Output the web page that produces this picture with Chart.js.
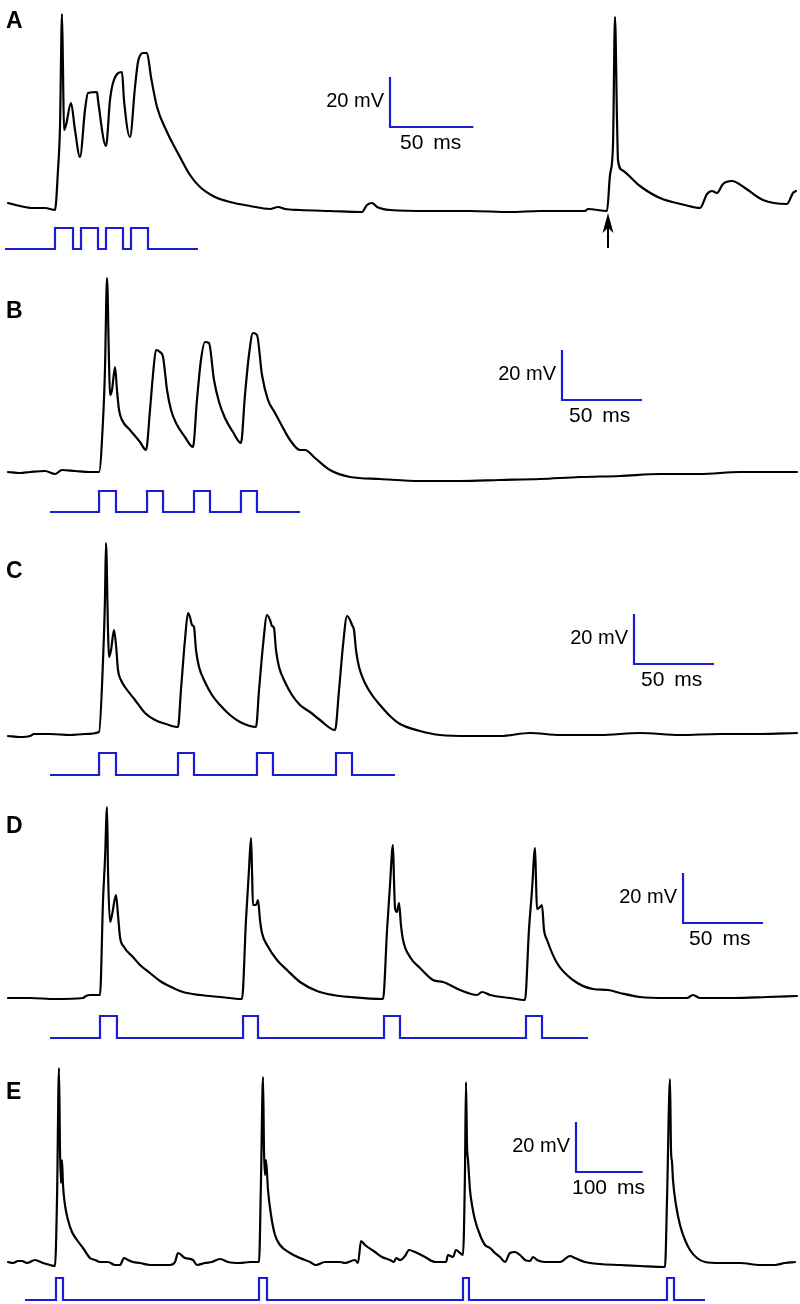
<!DOCTYPE html>
<html>
<head>
<meta charset="utf-8">
<script src="https://cdn.jsdelivr.net/npm/chart.js@4.4.1/dist/chart.umd.min.js"></script>
<style>
html,body{margin:0;padding:0;background:#fff;}
#wrap{position:relative;width:800px;height:1304px;overflow:hidden;}
canvas{position:absolute;left:0;}
</style>
</head>
<body>
<div id="wrap">
<canvas id="cA"></canvas>
<canvas id="cB"></canvas>
<canvas id="cC"></canvas>
<canvas id="cD"></canvas>
<canvas id="cE"></canvas>
</div>
<script>
// ===== DATA (time in ms, membrane potential in mV) =====
const panelLetters = ['A','B','C','D','E'];

// Panel A
const timeA = [4.8,12,19.8,27,33,34.8,36,37.2,37.8,38.4,39.6,42.6,45,48,51,52.8,58.2,58.8,63.6,66,67.8,73.2,74.4,78,81,82.8,85.8,88.2,90.6,94.2,100.2,108,114,120,129,138,150,162,166.8,171,180,198,217.2,220.2,223.2,226.2,234,258,282,306,324,351,352.8,364.2,366,367.8,369,370.2,370.8,373.2,384,396,411,420,424.2,427.2,430.2,433.8,439.2,447,457.8,472.2,475.8,477.6];
const vmA   = [-67.2,-68.4,-69.2,-69.2,-70,-54,-36.8,8.4,-14,-38,-36,-27.2,-38,-48.8,-30,-23.2,-22.8,-26,-44.4,-26,-19.2,-14.8,-26,-40.8,-20.8,-10.8,-7.2,-7.2,-16.8,-28.8,-38.8,-48.8,-56,-60.8,-64.8,-66.8,-68.4,-69.6,-68.8,-69.6,-70,-70.4,-70.8,-68,-67.2,-68.8,-70,-70.4,-70.4,-70.8,-70.4,-70.4,-69.6,-70.4,-56,-44,7.2,-34,-50,-54,-60.4,-65.2,-68,-69.2,-63.6,-62.4,-63.2,-59.6,-58.4,-61.2,-66,-67.6,-63.2,-62.4];
const stimOnA  = [33,48.6,63.6,78.6];
const stimOffA = [43.8,58.8,73.8,88.8];
const stimSpanA = [3,118.8];
const scaleBarA = [234,-36.8];         // corner of the scale bar (ms, mV)
const arrowA = [364.8,-71.2,-85.2];    // time, tip mV, tail mV

// Panel B
const timeB = [5,12.5,18.75,28.1,34.4,38.75,46.9,56.25,61.9,64.4,65.6,66.9,68.1,68.75,70,71.9,73.1,74.4,76.25,81.25,87.5,91.25,93.75,95.6,97.5,100,101.9,104.4,106.9,110,115.6,120.6,123.1,125.6,128.1,130.6,133.75,136.9,140.6,145.6,150.6,153.1,155.6,158.1,160.6,163.75,167.5,171.9,176.9,181.25,187.5,190.6,196.9,206.25,218.75,237.5,262.5,287.5,312.5,337.5,362.5,387.5,412.5,437.5,462.5,481.25,498.1];
const vmB   = [-70,-70.4,-70,-69.6,-70.8,-69.2,-69.6,-70,-70,-49.2,-29.2,7.6,-25.2,-39.2,-37.2,-28,-37.2,-45.2,-49.2,-53.2,-58,-61.2,-45.2,-31.2,-21.2,-22,-24,-37.2,-45.2,-50.4,-56,-60,-41.2,-25.2,-18,-18.4,-33.2,-42,-48.4,-54,-58.4,-39.2,-23.2,-14.4,-15.2,-31.2,-41.2,-46.4,-52.4,-57.2,-61.2,-61.2,-64.4,-69.2,-72,-72.8,-73.6,-73.6,-73.2,-72.8,-72,-71.6,-70.8,-70.8,-70,-70,-70];
const stimOnB  = [61.9,91.9,121.25,150.6];
const stimOffB = [72.5,101.9,131.25,160.6];
const stimSpanB = [31.25,187.5];
const scaleBarB = [351.25,-41.2];

// Panel C
const timeC = [5,12.5,18.75,21.25,31.25,43.75,53.1,61.9,64.4,65.6,66.25,67.5,68.1,69.4,71.25,72.5,73.75,75.6,78.1,84.4,90.6,96.9,103.75,111.25,113.1,115.6,117.5,118.75,120,121.25,122.5,124.4,128.1,132.5,137.5,143.75,150,160,161.9,164.4,166.9,168.75,170,171.25,172.5,174.4,178.1,182.5,187.5,193.75,200,209.4,211.9,214.4,216.9,218.75,220,221.25,222.5,224.4,228.1,232.5,237.5,243.75,250,262.5,275,293.75,312.5,331.25,350,375,400,425,450,475,498.1];
const vmC   = [-70.4,-70.8,-70.4,-69.6,-69.6,-70,-69.6,-68.8,-40,-16,6.8,-28,-38.8,-36,-28,-34,-44,-48,-50.8,-56,-61.2,-64,-65.6,-66.8,-52,-32,-21.2,-22.8,-26,-26.8,-36,-42.8,-48.8,-54,-58,-62,-64.8,-66.8,-52,-34,-22,-24,-26.4,-27.2,-36,-42.8,-48.8,-54,-58,-60.8,-64,-68,-52,-34,-22.4,-24,-26,-28,-36,-42.8,-49.2,-54,-58,-62.4,-65.6,-68.4,-70,-70.4,-70.4,-69.2,-70,-70,-69.2,-70,-69.6,-69.6,-69.2];
const stimOnC  = [61.9,111.25,160.6,210];
const stimOffC = [72.5,121.25,170.6,220];
const stimSpanC = [31.25,246.9];
const scaleBarC = [396.25,-41.6];

// Panel D
const timeD = [5,18.75,34.4,51.9,53.75,56.25,62.5,64.4,65.6,66.9,67.5,68.75,70,72.5,73.75,75,77.5,83.1,87.5,93.75,100,104.4,114.4,125,137.5,151.25,153.75,155.6,156.9,157.5,158.1,160,161.25,162.5,163.75,166.9,173.1,179.4,187.5,198.1,208.1,218.75,239.4,241.9,243.75,245.6,246.25,246.9,248.1,249.4,250.6,251.9,256.25,262.5,270.6,276.9,287.5,298.1,301.25,306.25,318.75,328.1,330.6,332.5,334.4,335,335.6,337.5,338.75,340,341.9,348.1,358.1,370.6,380,387.5,400,416.9,429.4,433.1,437.5,458.1,479.4,498.1];
const vmD   = [-70,-70,-70.4,-70,-69.2,-68.8,-68.8,-30.8,-14.8,6.4,-18.8,-39.6,-36.8,-28.8,-36.8,-45.6,-49.6,-53.6,-56.8,-60,-63.2,-64.8,-67.6,-68.8,-69.6,-70.4,-38.8,-18.8,-6,-18.8,-32.8,-32.8,-30.8,-38.8,-44,-48.8,-54.8,-58.8,-63.6,-67.2,-68.8,-69.6,-70.4,-42.8,-24.8,-8.8,-22.8,-34,-35.6,-32,-40.8,-46.8,-53.6,-58,-62.8,-63.6,-66.8,-68.8,-67.6,-68.8,-70,-70.8,-42.8,-26.8,-10,-22.8,-34.4,-33.6,-32.8,-42.8,-46.8,-56,-62.8,-66.4,-66.8,-68,-69.6,-70,-70,-68.8,-70,-70,-69.6,-69.2];
const stimOnD  = [62.5,151.9,240,328.75];
const stimOffD = [73.1,161.25,250,338.75];
const stimSpanD = [31.25,367.5];
const scaleBarD = [426.9,-40];

// Panel E
const timeE = [12,19.5,27,33,40.5,52.5,64.5,75,82.5,85.5,88.5,90,91.5,93,94.5,97.5,102,108,115.5,124.5,135,142.5,150,162,172.5,180,186,192,199.5,210,225,240,255,262.5,267,277.5,289.5,295.5,307.5,318,330,342,360,375,388.5,391.5,394.5,396,397.5,399,402,406.5,412.5,420,435,450,465,474,487.5,510,517.5,532.5,537,541.5,547.5,562.5,573,585,591,594,600,607.5,613.5,622.5,637.5,652.5,669,672,679.5,684,690,694.5,697.5,699,700.5,702,703.5,705,708,712.5,720,727.5,735,742.5,750,757.5,765,772.5,780,787.5,795,799.5,805.5,817.5,840,855,862.5,877.5,900,930,960,997.5,1000.5,1005,1006.5,1008,1009.5,1014,1020,1027.5,1035,1045.5,1057.5,1080,1110,1140,1162.5,1177.5,1192.5];
const vmE   = [-69.6,-70,-69.2,-69.2,-70,-68.8,-70,-70.8,-71.2,-44.8,8,-24.8,-38,-28.8,-38.8,-46.8,-52.8,-57.6,-60.8,-64,-68,-68.8,-69.6,-69.6,-70.8,-70.8,-68,-68.8,-69.6,-70,-70.8,-70.8,-70.8,-69.6,-66,-68,-68.8,-70.8,-70,-69.6,-68.4,-69.6,-70,-69.6,-69.6,-36.8,4.4,-24.8,-34.8,-28.8,-40.8,-50.8,-58.8,-62.8,-66,-68,-69.6,-70.8,-69.6,-69.6,-70,-68.8,-70,-61.2,-62.8,-65.6,-67.6,-68.8,-69.6,-68,-68.8,-67.2,-64.8,-65.6,-67.6,-69.6,-69.6,-66.8,-67.6,-64.8,-66,-66.8,-32.8,2.4,-22.8,-28.8,-34.8,-40.8,-46.8,-52.8,-58.8,-62.8,-64,-66,-67.6,-69.6,-66,-65.6,-66.8,-68.8,-69.2,-67.6,-68.8,-69.6,-69.6,-67.2,-68,-69.6,-70.4,-70.8,-71.2,-71.6,-44.8,3.6,-24.8,-29.6,-36.8,-46.8,-54.8,-60.8,-64.8,-68,-69.6,-70,-70,-70.8,-70.8,-70,-69.6];
const stimOnE  = [84,388.5,694.5,1000.5];
const stimOffE = [94.5,400.5,703.5,1011];
const stimSpanE = [37.5,1057.5];
const scaleBarE = [864,-33.6];

const barLabelsV = ['20 mV','20 mV','20 mV','20 mV','20 mV'];
const barLabelsH = ['50 ms','50 ms','50 ms','50 ms','100 ms'];
const barLengthsMs = [50,50,50,50,100];
const barLengthMv = 20;
const restMv = -70;

// ===== LAYOUT (geometry of each panel on the page) =====
const PX_MV = 0.4; // mV per pixel
const panels = [
  {id:'cA', top:0,    h:262, msPerPx:0.6,   restPx:210,  stimLow:249,  stimHigh:228,  letterBase:28,   hDx:10,
   t:timeA, v:vmA, on:stimOnA, off:stimOffA, span:stimSpanA, bar:scaleBarA, arrow:arrowA},
  {id:'cB', top:262,  h:264, msPerPx:0.625, restPx:472,  stimLow:512,  stimHigh:491,  letterBase:318,  hDx:7,
   t:timeB, v:vmB, on:stimOnB, off:stimOffB, span:stimSpanB, bar:scaleBarB},
  {id:'cC', top:526,  h:264, msPerPx:0.625, restPx:735,  stimLow:775,  stimHigh:753,  letterBase:578,  hDx:7,
   t:timeC, v:vmC, on:stimOnC, off:stimOffC, span:stimSpanC, bar:scaleBarC},
  {id:'cD', top:790,  h:260, msPerPx:0.625, restPx:998,  stimLow:1038, stimHigh:1016, letterBase:833,  hDx:6,
   t:timeD, v:vmD, on:stimOnD, off:stimOffD, span:stimSpanD, bar:scaleBarD},
  {id:'cE', top:1050, h:254, msPerPx:1.5,   restPx:1263, stimLow:1300, stimHigh:1278, letterBase:1099, hDx:-4,
   t:timeE, v:vmE, on:stimOnE, off:stimOffE, span:stimSpanE, bar:scaleBarE}
];

const BLUE = '#1c1cd2';
const FONT = '"Liberation Sans", Arial, Helvetica, sans-serif';

function stepSeries(span, on, off){
  const pts = [{x:span[0], y:0}];
  for (let i = 0; i < on.length; i++){
    pts.push({x:on[i], y:0},{x:on[i], y:1},{x:off[i], y:1},{x:off[i], y:0});
  }
  pts.push({x:span[1], y:0});
  return pts;
}

panels.forEach((p, idx) => {
  const cv = document.getElementById(p.id);
  cv.width = 800; cv.height = p.h;
  cv.style.top = p.top + 'px';
  cv.style.width = '800px'; cv.style.height = p.h + 'px';

  const yMax = restMv + (p.restPx - p.top) * PX_MV;
  const yMin = yMax - p.h * PX_MV;
  const sr = p.stimLow - p.stimHigh;
  const sMax = 1 + (p.stimHigh - p.top) / sr;
  const sMin = sMax - p.h / sr;
  const barMs = barLengthsMs[idx];

  const deco = {
    id: 'deco' + idx,
    afterDatasetsDraw(chart){
      const ctx = chart.ctx;
      const xs = chart.scales.x, ys = chart.scales.y;
      ctx.save();
      ctx.fillStyle = '#000';
      ctx.font = 'bold 23px ' + FONT;
      ctx.textAlign = 'left';
      ctx.textBaseline = 'alphabetic';
      ctx.fillText(panelLetters[idx], 6, p.letterBase - p.top);

      const cx = xs.getPixelForValue(p.bar[0]);
      const cy = ys.getPixelForValue(p.bar[1]);
      const topY = ys.getPixelForValue(p.bar[1] + barLengthMv);
      ctx.font = '20px ' + FONT;
      ctx.textAlign = 'right';
      ctx.textBaseline = 'middle';
      ctx.fillText(barLabelsV[idx], cx - 6, (cy + topY) / 2 - 1);

      ctx.font = '21px ' + FONT;
      ctx.textAlign = 'left';
      const parts = barLabelsH[idx].split(' ');
      const x0 = cx + p.hDx;
      ctx.fillText(parts[0], x0, cy + 16);
      ctx.fillText(parts[1], x0 + ctx.measureText(parts[0]).width + 10, cy + 16);

      if (p.arrow){
        const ax = xs.getPixelForValue(p.arrow[0]);
        const tip = ys.getPixelForValue(p.arrow[1]);
        const tail = ys.getPixelForValue(p.arrow[2]);
        ctx.strokeStyle = '#000';
        ctx.lineWidth = 2;
        ctx.beginPath();
        ctx.moveTo(ax, tail);
        ctx.lineTo(ax, tip + 12);
        ctx.stroke();
        ctx.beginPath();
        ctx.moveTo(ax, tip);
        ctx.lineTo(ax + 5.5, tip + 20);
        ctx.lineTo(ax, tip + 15);
        ctx.lineTo(ax - 5.5, tip + 20);
        ctx.closePath();
        ctx.fill();
      }
      ctx.restore();
    }
  };

  new Chart(cv, {
    type: 'line',
    data: {
      datasets: [
        {
          data: p.t.map((x, i) => ({x: x, y: p.v[i]})),
          borderColor: '#000', borderWidth: 2.2, pointRadius: 0,
          cubicInterpolationMode: 'monotone',
          borderJoinStyle: 'round', borderCapStyle: 'round', fill: false,
          xAxisID: 'x', yAxisID: 'y', clip: false
        },
        {
          data: stepSeries(p.span, p.on, p.off),
          borderColor: BLUE, borderWidth: 2.2, pointRadius: 0, tension: 0,
          borderJoinStyle: 'miter', fill: false,
          xAxisID: 'x', yAxisID: 'ys', clip: false
        },
        {
          data: [{x: p.bar[0], y: p.bar[1] + barLengthMv}, {x: p.bar[0], y: p.bar[1]}, {x: p.bar[0] + barMs, y: p.bar[1]}],
          borderColor: BLUE, borderWidth: 2.2, pointRadius: 0, tension: 0,
          borderJoinStyle: 'miter', fill: false,
          xAxisID: 'x', yAxisID: 'y', clip: false
        }
      ]
    },
    options: {
      responsive: false,
      animation: false,
      events: [],
      layout: {padding: 0},
      plugins: {legend: {display: false}, tooltip: {enabled: false}, title: {display: false}},
      scales: {
        x: {type: 'linear', display: false, min: 0, max: 800 * p.msPerPx},
        y: {type: 'linear', display: false, min: yMin, max: yMax},
        ys: {type: 'linear', display: false, min: sMin, max: sMax}
      }
    },
    plugins: [deco]
  });
});
</script>
</body>
</html>
